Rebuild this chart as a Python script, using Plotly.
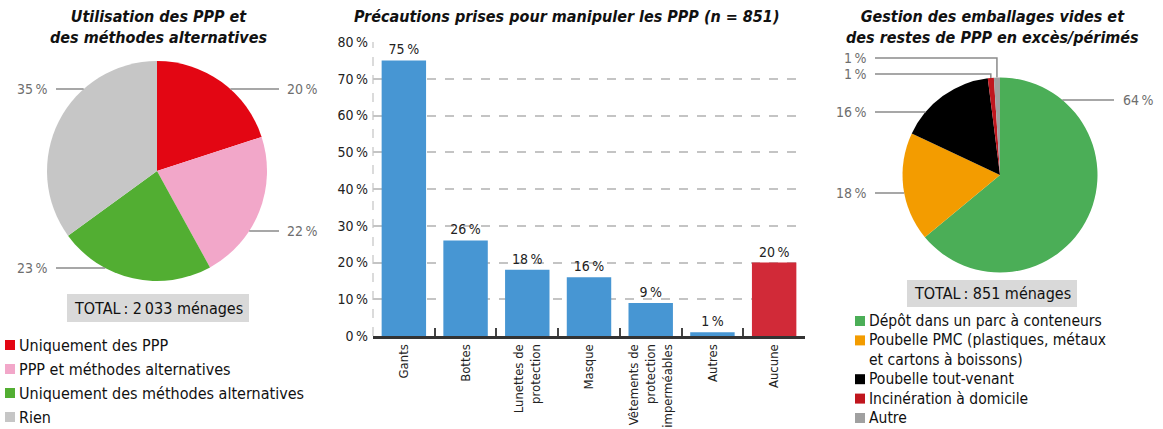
import math
import plotly.graph_objects as go

W, H = 1163, 429
FONT = "DejaVu Sans Condensed, DejaVu Sans, sans-serif"
NS = "\u202f"

# ---------------- data ----------------
usage_labels = ["Uniquement des PPP", "PPP et méthodes alternatives",
                "Uniquement des méthodes alternatives", "Rien"]
usage_values = [20, 22, 23, 35]
usage_total = "TOTAL" + NS + ": 2" + NS + "033 ménages"

prec_categories = ["Gants", "Bottes", "Lunettes de<br>protection", "Masque",
                   "Vêtements de<br>protection<br>imperméables", "Autres", "Aucune"]
prec_values = [75, 26, 18, 16, 9, 1, 20]

gest_labels = ["Dépôt dans un parc à conteneurs",
               "Poubelle PMC (plastiques, métaux<br>et cartons à boissons)",
               "Poubelle tout-venant", "Incinération à domicile", "Autre"]
gest_values = [64, 18, 16, 1, 1]
gest_total = "TOTAL" + NS + ": 851 ménages"

titles = ["Utilisation des PPP et<br>des méthodes alternatives",
          "Précautions prises pour manipuler les PPP (n = 851)",
          "Gestion des emballages vides et<br>des restes de PPP en excès/périmés"]

# ---------------- styles / layout ----------------
usage_colors = ["#E30613", "#F2A7C9", "#52AE32", "#C6C6C6"]
gest_colors = ["#4BAE57", "#F39C00", "#000000", "#C0161E", "#A0A0A0"]
bar_colors = ["#4796D3"] * 6 + ["#D12A38"]

LEFT = dict(cx=157, cy=171, r=110, label_ys=[89, 231, 268, 89],
            line_l=56, text_l=50, line_r=279, text_r=285)
RIGHT = dict(cx=1000, cy=175, r=97.5, label_ys=[100, 193, 112, 74, 58],
             line_l=875, text_l=869, line_r=1114, text_r=1121)


def px(x):
    return x / W


def py(y):
    return 1 - y / H


fig = go.Figure()
shapes = []
annotations = []


def add_pie(geom, labels, values, colors):
    cx, cy, r = geom["cx"], geom["cy"], geom["r"]
    fig.add_trace(go.Pie(
        labels=[l.replace("<br>", " ") for l in labels], values=values,
        marker=dict(colors=colors, line=dict(width=0)),
        sort=False, direction="clockwise", rotation=0,
        textinfo="none", hoverinfo="label+percent", showlegend=False,
        domain=dict(x=[px(cx - r), px(cx + r)], y=[py(cy + r), py(cy - r)]),
    ))
    total = sum(values)
    cum = 0
    for v, ly in zip(values, geom["label_ys"]):
        mid = (cum + v / 2) / total * 2 * math.pi
        cum += v
        side = 1 if math.sin(mid) >= 0 else -1
        dy = ly - cy
        col_line = geom["line_r"] if side > 0 else geom["line_l"]
        if abs(dy) < r:
            ex = cx + side * math.sqrt(r * r - dy * dy)
            path = f"M {px(col_line)},{py(ly)} L {px(ex)},{py(ly)}"
        else:
            ex = cx + r * math.sin(mid)
            ey = cy - r * math.cos(mid)
            path = (f"M {px(col_line)},{py(ly)} L {px(ex)},{py(ly)} "
                    f"L {px(ex)},{py(ey)}")
        shapes.append(dict(type="path", xref="paper", yref="paper", path=path,
                           line=dict(color="#8A8A8A", width=1.5)))
        annotations.append(dict(
            xref="paper", yref="paper",
            x=px(geom["text_r"] if side > 0 else geom["text_l"]), y=py(ly),
            xanchor="left" if side > 0 else "right", yanchor="middle",
            text=f"{round(v / total * 100)}{NS}%", showarrow=False,
            font=dict(size=14, color="#6E6E6E", family=FONT)))


add_pie(LEFT, usage_labels, usage_values, usage_colors)
add_pie(RIGHT, gest_labels, gest_values, gest_colors)

# ---------------- bar chart ----------------
fig.add_trace(go.Bar(
    x=prec_categories, y=prec_values,
    marker=dict(color=bar_colors, line=dict(width=0)),
    text=[f"{v}{NS}%" for v in prec_values], textposition="outside",
    textfont=dict(size=14, color="#222", family=FONT), cliponaxis=False,
    showlegend=False, hoverinfo="x+y",
))

yticks = list(range(0, 81, 10))
fig.update_layout(
    xaxis=dict(domain=[px(373), px(805)], type="category", tickangle=-90,
               ticks="inside", tickson="boundaries", ticklen=8, tickwidth=1.5,
               tickcolor="#444", showline=True, linecolor="#333", linewidth=3,
               showgrid=False, automargin=False,
               tickfont=dict(size=13, color="#222", family=FONT),
               fixedrange=True),
    yaxis=dict(domain=[py(336), py(42)], range=[0, 80], tickvals=yticks,
               ticktext=[f"{v}{NS}%" for v in yticks], showgrid=True,
               gridcolor="#C4C4C4", gridwidth=1.5, griddash="dash",
               zeroline=False, showline=False, ticks="", automargin=False,
               ticklabelstandoff=4,
               tickfont=dict(size=14, color="#222", family=FONT),
               fixedrange=True),
    bargap=0.28,
)
shapes.append(dict(type="line", xref="x domain", yref="y domain", x0=0, x1=0,
                   y0=0, y1=1, line=dict(color="#C4C4C4", width=1.2, dash="dash"),
                   layer="below"))

# ---------------- titles ----------------
for t, x in zip(titles, [158, 566, 992]):
    annotations.append(dict(xref="paper", yref="paper", x=px(x), y=py(5),
                            xanchor="center", yanchor="top",
                            text=f"<b><i>{t}</i></b>", showarrow=False,
                            font=dict(size=16, color="#111", family=FONT)))

# ---------------- totals ----------------
for txt, (x0, x1, y0, y1) in [(usage_total, (67, 249, 294, 322)),
                              (gest_total, (907, 1077, 280, 307))]:
    shapes.append(dict(type="rect", xref="paper", yref="paper",
                       x0=px(x0), x1=px(x1), y0=py(y1), y1=py(y0),
                       fillcolor="#D9D9D9", line=dict(width=0)))
    annotations.append(dict(xref="paper", yref="paper", x=px((x0 + x1) / 2),
                            y=py((y0 + y1) / 2), xanchor="center",
                            yanchor="middle", text=txt, showarrow=False,
                            font=dict(size=16, color="#111", family=FONT)))


# ---------------- legends ----------------
def add_legend(labels, colors, x_sym, x_txt, y_first, line_h, size):
    y = y_first
    for lab, col in zip(labels, colors):
        shapes.append(dict(type="rect", xref="paper", yref="paper",
                           x0=px(x_sym), x1=px(x_sym + 10),
                           y0=py(y + 5), y1=py(y - 5),
                           fillcolor=col, line=dict(width=0)))
        n = lab.count("<br>") + 1
        annotations.append(dict(xref="paper", yref="paper", x=px(x_txt),
                                y=py(y), xanchor="left",
                                yanchor="middle" if n == 1 else "top",
                                yshift=0 if n == 1 else line_h / 2 + 1,
                                align="left", text=lab, showarrow=False,
                                borderpad=0,
                                font=dict(size=size, color="#111", family=FONT)))
        y += line_h * n


add_legend(usage_labels, usage_colors, 5, 18, 345, 24, 16)
add_legend(gest_labels, gest_colors, 855, 868, 321, 19.4, 15.5)

fig.update_layout(
    width=W, height=H, autosize=False,
    margin=dict(l=0, r=0, t=0, b=0, autoexpand=False),
    paper_bgcolor="white", plot_bgcolor="white",
    font=dict(family=FONT, size=14, color="#222"),
    shapes=shapes, annotations=annotations,
    showlegend=False,
)

fig.write_html("out.html", config={"displayModeBar": False},
               post_script="document.body.style.margin='0';")
